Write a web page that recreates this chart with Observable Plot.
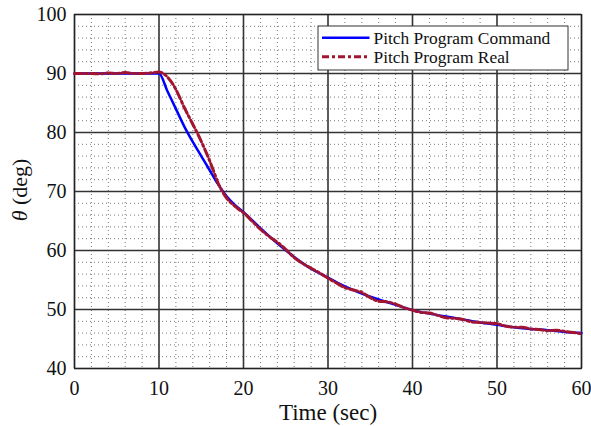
<!DOCTYPE html>
<html>
<head>
<meta charset="utf-8">
<script src="https://cdn.jsdelivr.net/npm/d3@7"></script>
<script src="https://cdn.jsdelivr.net/npm/@observablehq/plot@0.6"></script>
<style>
  body { margin: 0; background: #fff; }
  #wrap { position: relative; width: 591px; height: 426px; font-family: "Liberation Serif", "Times New Roman", serif; }
  #legend { position: absolute; left: 0; top: 0; pointer-events: none; }
  #ylab { position: absolute; left: 20px; top: 190px; transform: translate(-50%, -50%) rotate(-90deg); font-size: 22px; white-space: nowrap; color: #111; }
</style>
</head>
<body>
<div id="wrap">
  <div id="chart"></div>
  <div id="ylab"><i>θ</i> (deg)</div>
  <svg id="legend" width="591" height="426" font-family="Liberation Serif, Times New Roman, serif" font-size="17.4">
    <rect x="318" y="26" width="250" height="44" fill="#fff" stroke="#333" stroke-width="1"/>
    <line x1="322" y1="37.7" x2="369.5" y2="37.7" stroke="#0000ff" stroke-width="2.5"/>
    <line x1="322" y1="56.7" x2="369.5" y2="56.7" stroke="#a2142f" stroke-width="3" stroke-dasharray="7,3,3,3"/>
    <text x="373.5" y="44" fill="#111">Pitch Program Command</text>
    <text x="373.5" y="63.3" fill="#111">Pitch Program Real</text>
  </svg>
</div>
<script>
// Time axis (sec) and values
const cmdTime = [0, 5, 10, 11, 12, 13, 14, 15, 16, 17, 18, 19, 20, 22, 24, 26, 28, 30, 32, 34, 36, 38, 40, 42, 44, 46, 48, 50, 52, 54, 56, 58, 60];
const cmdPitch = [90, 90, 90, 87, 84, 81, 78.4, 76.0, 73.6, 71.2, 69.2, 67.7, 66.5, 63.8, 61.2, 58.9, 56.9, 55.4, 53.9, 52.7, 51.7, 50.8, 49.9, 49.3, 48.8, 48.3, 47.8, 47.4, 47.0, 46.7, 46.5, 46.2, 46.0];

const realTime = [0, 1, 2, 3, 4, 5, 6, 7, 8, 9, 10, 10.5, 11, 11.5, 12, 12.5, 13, 13.5, 14, 14.5, 15, 15.5, 16, 16.5, 17, 17.5, 18, 18.5, 19, 19.5, 20,
  21, 22, 23, 24, 25, 26, 27, 28, 29, 30, 31, 32, 33, 34, 35, 36, 37, 38, 39, 40, 41, 42, 43, 44, 45, 46, 47, 48, 49, 50, 51, 52, 53, 54, 55, 56, 57, 58, 59, 60];
const realPitch = [90.0, 90.0, 90.0, 89.95, 90.1, 90.0, 90.15, 90.0, 90.0, 90.1, 90.25, 90.0, 89.4, 88.5, 87.3, 85.8, 84.2, 82.8, 81.4, 80.0, 78.5, 76.9, 75.2, 73.3, 71.4, 70.0, 68.9, 68.1, 67.5, 66.9, 66.4,
  65.0, 63.6, 62.4, 61.4, 60.2, 58.8, 57.8, 57.0, 56.2, 55.3, 54.5, 53.7, 53.3, 52.9, 52.0, 51.4, 51.3, 50.9, 50.3, 49.9, 49.5, 49.4, 49.0, 48.6, 48.5, 48.3, 47.9, 47.8, 47.7, 47.6, 47.2, 47.0, 47.0, 46.7, 46.6, 46.4, 46.5, 46.3, 46.1, 45.9];

const xTicks = [0, 10, 20, 30, 40, 50, 60];
const yTicks = [40, 50, 60, 70, 80, 90, 100];

const cmd = cmdTime.map((t, i) => ({t, v: cmdPitch[i]}));
const real = realTime.map((t, i) => ({t, v: realPitch[i]}));
const minorX = d3.range(0, 61, 2).filter(d => d % 10 !== 0);
const minorY = d3.range(40, 101, 2).filter(d => d % 10 !== 0);

const chart = Plot.plot({
  width: 591,
  height: 426,
  marginLeft: 74,
  marginRight: 10,
  marginTop: 14,
  marginBottom: 58,
  style: {fontFamily: "Liberation Serif, Times New Roman, serif", fontSize: "20px", color: "#111", background: "#fff"},
  x: {domain: [0, 60]},
  y: {domain: [40, 100]},
  marks: [
    Plot.gridX(minorX, {stroke: "#777", strokeOpacity: 1, strokeDasharray: "1,3", strokeWidth: 1}),
    Plot.gridY(minorY, {stroke: "#777", strokeOpacity: 1, strokeDasharray: "1,3", strokeWidth: 1}),
    Plot.gridX(xTicks, {stroke: "#333", strokeOpacity: 1, strokeWidth: 1.6}),
    Plot.gridY(yTicks, {stroke: "#333", strokeOpacity: 1, strokeWidth: 1.6}),
    Plot.frame({stroke: "#222", strokeWidth: 1.2}),
    Plot.axisX(xTicks, {tickSize: 0, tickPadding: 12, fontSize: 20, label: null}),
    Plot.axisY(yTicks, {tickSize: 0, tickPadding: 8, fontSize: 20, label: null}),
    Plot.text(["Time (sec)"], {frameAnchor: "bottom", lineAnchor: "bottom", dy: 51, fontSize: 23, fill: "#111"}),
    Plot.line(cmd, {x: "t", y: "v", stroke: "#0000ff", strokeWidth: 2.5, curve: "monotone-x"}),
    Plot.line(real, {x: "t", y: "v", stroke: "#a2142f", strokeWidth: 3, strokeDasharray: "8,3,2,3", curve: "monotone-x"})
  ]
});
document.getElementById("chart").appendChild(chart);
</script>
</body>
</html>
